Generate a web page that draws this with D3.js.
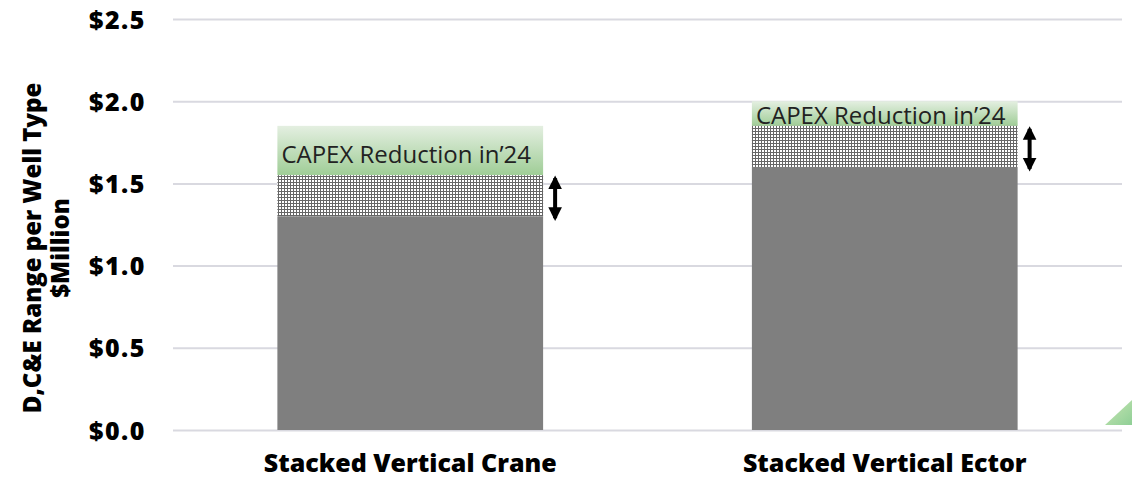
<!DOCTYPE html>
<html><head><meta charset="utf-8">
<script src="https://cdn.jsdelivr.net/npm/d3@7"></script>
<style>body{margin:0;background:#fff;} svg{display:block;}</style>
</head><body>
<svg id="c" width="1132" height="479"></svg>
<script>
const categories = ["Stacked Vertical Crane", "Stacked Vertical Ector"];
const baseCost = [1.30, 1.60];
const rangeTop = [1.55, 1.85];
const priorCost = [1.85, 2.00];
const reductionLabel = "CAPEX Reduction in\u201924";
const yTicks = [0, 0.5, 1.0, 1.5, 2.0, 2.5];
const yTitle = ["D,C&E Range per Well  Type", "$Million"];

(function(){
const svg = d3.select("#c");
const mLeft = 173, mRight = 1122, mTop = 19, mBottom = 430;
const font = "'Open Sans', sans-serif";

const x = d3.scaleBand().domain(categories).range([mLeft, mRight]).paddingInner(0.44).paddingOuter(0.22);
const y = d3.scaleLinear().domain([0, 2.5]).range([mBottom, mTop]);

const defs = svg.append("defs");
const pat = defs.append("pattern").attr("id","dots").attr("patternUnits","userSpaceOnUse").attr("width",3).attr("height",3);
pat.append("rect").attr("width",3).attr("height",3).attr("fill","#666666");
pat.append("rect").attr("x",0).attr("y",0).attr("width",2).attr("height",2).attr("fill","#ffffff");
const grad = defs.append("linearGradient").attr("id","green").attr("x1",0).attr("y1",0).attr("x2",0).attr("y2",1);
grad.append("stop").attr("offset","0%").attr("stop-color","#e4efe1");
grad.append("stop").attr("offset","100%").attr("stop-color","#9fcd96");
const tri = defs.append("linearGradient").attr("id","tri").attr("x1",0).attr("y1",0).attr("x2",1).attr("y2",1);
tri.append("stop").attr("offset","0%").attr("stop-color","#c9e6b3");
tri.append("stop").attr("offset","100%").attr("stop-color","#8fcf96");
const mk = defs.append("marker").attr("id","ah").attr("viewBox","0 0 10 10").attr("refX",8).attr("refY",5)
  .attr("markerWidth",3.4).attr("markerHeight",3.7).attr("markerUnits","strokeWidth").attr("orient","auto-start-reverse");
mk.append("path").attr("d","M0,0 L10,5 L0,10 Z").attr("fill","#000");

const yAxis = d3.axisLeft(y).tickValues(yTicks).tickSize(-(mRight-mLeft)).tickFormat(d => "$" + d3.format(".1f")(d)).tickPadding(27);
const ga = svg.append("g").attr("transform",`translate(${mLeft},0)`).call(yAxis);
ga.select(".domain").remove();
ga.selectAll(".tick line").attr("stroke","#d9d9e0").attr("stroke-width",2);
ga.selectAll(".tick text").attr("font-family",font).attr("font-weight",800).attr("font-size",25)
  .attr("letter-spacing",1.5).attr("fill","#000").attr("dy","0.36em");

svg.append("polygon").attr("points",`1105,${mBottom-5} 1132,400 1132,${mBottom-5}`).attr("fill","url(#tri)");

const g = svg.append("g");
categories.forEach((c,i)=>{
  const bx = x(c), bw = x.bandwidth();
  g.append("rect").attr("x",bx).attr("width",bw).attr("y",y(priorCost[i])).attr("height",y(rangeTop[i])-y(priorCost[i])).attr("fill","url(#green)");
  g.append("rect").attr("x",bx).attr("width",bw).attr("y",y(rangeTop[i])).attr("height",y(baseCost[i])-y(rangeTop[i])).attr("fill","url(#dots)");
  g.append("rect").attr("x",bx).attr("width",bw).attr("y",y(baseCost[i])).attr("height",y(0)-y(baseCost[i])).attr("fill","#7f7f7f");
  const midTxt = (y(priorCost[i]) + y(rangeTop[i]))/2;
  g.append("text").attr("x",bx+4).attr("y",i===0 ? midTxt+12 : y(rangeTop[i])-2)
    .attr("font-family",font).attr("font-size",24).attr("fill","#222").text(reductionLabel);
  const ax = bx + bw + 12;
  g.append("line").attr("x1",ax).attr("x2",ax).attr("y1",y(rangeTop[i])+3).attr("y2",y(baseCost[i]-0.03)-3)
    .attr("stroke","#000").attr("stroke-width",4).attr("marker-start","url(#ah)").attr("marker-end","url(#ah)");
  svg.append("text").attr("x",bx+bw/2).attr("y",472).attr("text-anchor","middle")
    .attr("font-family",font).attr("font-weight",800).attr("font-size",25).attr("fill","#000").text(c);
});

const yt = svg.append("text").attr("transform",`translate(41,248) rotate(-90)`).attr("text-anchor","middle")
  .attr("font-family",font).attr("font-weight",800).attr("font-size",24).attr("fill","#000");
yTitle.forEach((t,k)=> yt.append("tspan").attr("x",0).attr("dy",k===0?0:28).text(t));
})();
</script>
</body></html>
